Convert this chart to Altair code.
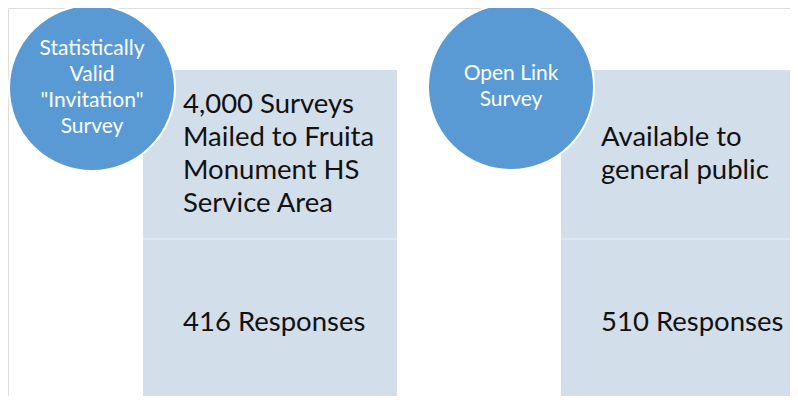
import altair as alt
import pandas as pd

# ---- content ----
circle_titles = [
    ["Statistically", "Valid", "\"Invitation\"", "Survey"],
    ["Open Link", "Survey"],
]
upper_texts = [
    ["4,000 Surveys", "Mailed to Fruita", "Monument HS", "Service Area"],
    ["Available to", "general public"],
]
lower_texts = ["416 Responses", "510 Responses"]

# ---- layout (pixels, chart coordinates) ----
W, H = 782, 388
OFF = 8
rect_left = [143 - OFF, 561 - OFF]
rect_right = [397 - OFF, W]
rect_top = 70 - OFF
sep_y = 239 - OFF
rect_bottom = H
circle_cx = [92 - OFF, 511 - OFF]
circle_cy = [88 - OFF, 87 - OFF]
R = 83
text_pad = 40
box_line_h = 33
circ_line_h = 26
lower_text_y = 323 - OFF

rects, seps, circles, ctext, btext = [], [], [], [], []
for i in range(2):
    rects.append(dict(x=rect_left[i], x2=rect_right[i], y=rect_top, y2=sep_y))
    rects.append(dict(x=rect_left[i], x2=rect_right[i], y=sep_y, y2=rect_bottom))
    seps.append(dict(x=rect_left[i], x2=rect_right[i], y=sep_y))
    circles.append(dict(x=circle_cx[i], y=circle_cy[i]))
    n = len(circle_titles[i])
    for j, t in enumerate(circle_titles[i]):
        ctext.append(dict(x=circle_cx[i], y=circle_cy[i] + (j - (n - 1) / 2) * circ_line_h, t=t))
    m = len(upper_texts[i])
    mid = (rect_top + sep_y) / 2
    for j, t in enumerate(upper_texts[i]):
        btext.append(dict(x=rect_left[i] + text_pad, y=mid + (j - (m - 1) / 2) * box_line_h, t=t))
    btext.append(dict(x=rect_left[i] + text_pad, y=lower_text_y, t=lower_texts[i]))

xs = alt.Scale(domain=[0, W], nice=False, zero=False)
ys = alt.Scale(domain=[0, H], nice=False, zero=False, reverse=True)
X = lambda f="x": alt.X(f + ":Q", scale=xs, axis=None)
Y = lambda f="y": alt.Y(f + ":Q", scale=ys, axis=None)

rect_layer = alt.Chart(pd.DataFrame(rects)).mark_rect(color="#D3DEEB").encode(
    x=X(), x2="x2:Q", y=Y(), y2="y2:Q")
sep_layer = alt.Chart(pd.DataFrame(seps)).mark_rule(color="#DEE7F1", strokeWidth=2).encode(
    x=X(), x2="x2:Q", y=Y())
circ_layer = alt.Chart(pd.DataFrame(circles)).mark_point(
    shape="circle", filled=True, color="#5A9AD4", opacity=1,
    stroke="white", strokeWidth=2, size=(2 * R) ** 2).encode(x=X(), y=Y())
ctext_layer = alt.Chart(pd.DataFrame(ctext)).mark_text(
    color="white", font="Lato", fontSize=21, align="center", baseline="middle").encode(
    x=X(), y=Y(), text="t:N")
btext_layer = alt.Chart(pd.DataFrame(btext)).mark_text(
    color="#111111", font="Lato", fontSize=27.5, align="left", baseline="middle").encode(
    x=X(), y=Y(), text="t:N")

chart = alt.layer(rect_layer, sep_layer, circ_layer, ctext_layer, btext_layer).properties(
    width=W, height=H, padding=0,
    autosize=alt.AutoSizeParams(type="none"),
).configure_view(strokeWidth=0, stroke="transparent").configure(background="white")

chart.save("out.html", embed_options={"renderer": "svg", "actions": False})
